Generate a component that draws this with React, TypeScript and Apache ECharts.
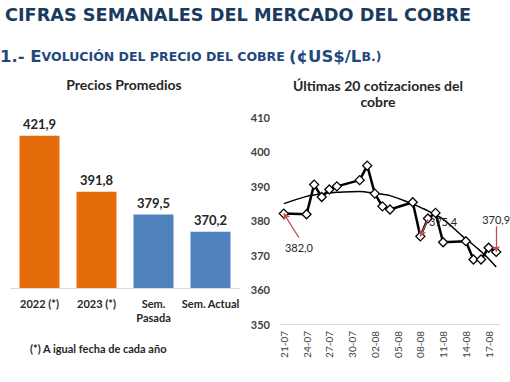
import React, { useEffect, useRef } from "react";
import * as echarts from "echarts";

// ---- Data ----
const barCategories = ["2022 (*)", "2023 (*)", "Sem.\nPasada", "Sem. Actual"];
const barValues = [421.9, 391.8, 379.5, 370.2];
const barColors = ["#E46C0A", "#E46C0A", "#4F81BD", "#4F81BD"];

// calendar days on the date axis (tick labels every 3 days)
const calendarDays = [
  "21-07", "22-07", "23-07", "24-07", "25-07", "26-07", "27-07", "28-07", "29-07", "30-07",
  "31-07", "01-08", "02-08", "03-08", "04-08", "05-08", "06-08", "07-08", "08-08", "09-08",
  "10-08", "11-08", "12-08", "13-08", "14-08", "15-08", "16-08", "17-08", "18-08",
];
const tradingDates = [
  "21-07", "24-07", "25-07", "26-07", "27-07", "28-07",
  "31-07", "01-08", "02-08", "03-08", "04-08",
  "07-08", "08-08", "09-08", "10-08", "11-08",
  "14-08", "15-08", "16-08", "17-08", "18-08",
];
const prices = [
  382.0, 381.8, 390.4, 386.8, 389.0, 389.9,
  391.7, 395.9, 387.8, 384.1, 383.2,
  385.3, 375.4, 380.6, 382.2, 373.7,
  374.0, 368.7, 368.7, 372.1, 370.9,
];
const trend = [
  384.9, 387.0, 387.4, 387.7, 388.0, 388.2,
  388.4, 388.2, 388.0, 387.6, 387.2,
  384.8, 383.8, 382.8, 381.6, 380.4,
  374.6, 372.9, 371.0, 368.9, 366.5,
];

const fmt = (v: number) => v.toFixed(1).replace(".", ",");

export default function App() {
  const ref = useRef<HTMLDivElement>(null);
  useEffect(() => {
    if (!ref.current) return;
    const chart = echarts.init(ref.current, null, { renderer: "svg" });
    const onAxis = (arr: number[]) =>
      calendarDays.map((d) => {
        const i = tradingDates.indexOf(d);
        return i >= 0 ? arr[i] : null;
      });
    const priceData = onAxis(prices);
    const trendData = onAxis(trend);
    const p = (d: string) => prices[tradingDates.indexOf(d)];
    const idx = (d: string) => calendarDays.indexOf(d);

    const chartFont = "Lato";
    const darkText = "#262626";

    chart.setOption({
      animation: false,
      backgroundColor: "#ffffff",
      graphic: [
        {
          type: "text",
          left: 5,
          top: 6,
          style: {
            text: "CIFRAS SEMANALES DEL MERCADO DEL COBRE",
            font: "bold 17.7px 'DejaVu Sans'",
            fill: "#1B3A60",
          },
        },
        {
          type: "text",
          left: 0,
          top: 48,
          style: {
            text: "{b|1.- E}{s|VOLUCIÓN DEL PRECIO DEL COBRE }{b|(¢US$/L}{s|B.)}",
            rich: {
              b: { font: "bold 16.5px 'DejaVu Sans'", fill: "#1F497D" },
              s: { font: "bold 12.5px 'DejaVu Sans'", fill: "#1F497D" },
            },
          },
        },
        {
          type: "text",
          x: 124,
          y: 84,
          style: {
            text: "Precios Promedios",
            font: `bold 14px ${chartFont}`,
            fill: darkText,
            align: "center",
            verticalAlign: "middle",
          },
        },
        {
          type: "text",
          x: 378,
          y: 93,
          style: {
            text: "Últimas 20 cotizaciones del\ncobre",
            font: `bold 14px ${chartFont}`,
            lineHeight: 16,
            fill: darkText,
            align: "center",
            verticalAlign: "middle",
          },
        },
        {
          type: "text",
          x: 30,
          y: 348,
          style: {
            text: "(*) A igual fecha de cada año",
            font: `bold 11px ${chartFont}`,
            fill: darkText,
            verticalAlign: "middle",
          },
        },
      ],
      grid: [
        { left: 11, right: 271, top: 102, bottom: 94 },
        { left: 280, right: 10, top: 117, bottom: 58 },
      ],
      xAxis: [
        {
          type: "category",
          gridIndex: 0,
          data: barCategories,
          axisLine: { lineStyle: { color: "#D9D9D9" } },
          axisTick: { show: false },
          axisLabel: {
            color: darkText,
            fontFamily: chartFont,
            fontWeight: "bold",
            fontSize: 11,
            lineHeight: 14,
            margin: 8,
            interval: 0,
          },
        },
        {
          type: "category",
          gridIndex: 1,
          data: calendarDays,
          boundaryGap: true,
          axisLine: { lineStyle: { color: "#D9D9D9" } },
          axisTick: { show: false },
          axisLabel: {
            interval: 2,
            rotate: 90,
            color: "#404040",
            fontFamily: chartFont,
            fontSize: 10,
            margin: 7,
          },
        },
      ],
      yAxis: [
        {
          type: "value",
          gridIndex: 0,
          min: 340,
          max: 440,
          show: false,
          splitLine: { show: false },
        },
        {
          type: "value",
          gridIndex: 1,
          min: 350,
          max: 410,
          interval: 10,
          axisLine: { show: false },
          axisTick: { show: false },
          splitLine: { show: false },
          axisLabel: {
            color: "#404040",
            fontFamily: chartFont,
            fontWeight: "bold",
            fontSize: 11,
            margin: 10,
          },
        },
      ],
      series: [
        {
          type: "bar",
          xAxisIndex: 0,
          yAxisIndex: 0,
          barWidth: 40,
          data: barValues.map((v, i) => ({ value: v, itemStyle: { color: barColors[i] } })),
          label: {
            show: true,
            position: "top",
            distance: 5,
            formatter: (pp: any) => fmt(pp.value),
            color: darkText,
            fontFamily: chartFont,
            fontWeight: "bold",
            fontSize: 13,
          },
        },
        {
          type: "line",
          name: "Tendencia",
          xAxisIndex: 1,
          yAxisIndex: 1,
          data: trendData,
          connectNulls: true,
          smooth: true,
          showSymbol: false,
          symbol: "none",
          lineStyle: { color: "#000", width: 1.5 },
          z: 2,
        },
        {
          type: "line",
          name: "Cobre",
          xAxisIndex: 1,
          yAxisIndex: 1,
          data: priceData,
          connectNulls: true,
          showAllSymbol: true,
          symbol: "diamond",
          symbolSize: 9,
          lineStyle: { color: "#000", width: 2.5 },
          itemStyle: { color: "#ffffff", borderColor: "#000", borderWidth: 1.3 },
          z: 3,
          markLine: {
            silent: true,
            symbol: ["none", "arrow"],
            symbolSize: 6,
            label: { show: false },
            lineStyle: { color: "#C0504D", width: 1.3, type: "solid" },
            data: [
              [{ coord: [idx("23-07"), 375.0] }, { coord: [idx("21-07"), p("21-07")] }],
              [{ coord: [idx("09-08"), 380.3] }, { coord: [idx("08-08"), p("08-08")] }],
              [{ coord: [idx("18-08"), 378.3] }, { coord: [idx("18-08"), p("18-08")] }],
            ],
          },
          markPoint: {
            silent: true,
            symbol: "circle",
            symbolSize: 0,
            label: {
              show: true,
              color: darkText,
              fontFamily: chartFont,
              fontSize: 11,
              formatter: (pp: any) => pp.name,
            },
            data: [
              { name: fmt(p("21-07")), coord: [1.5, 372.1] },
              { name: fmt(p("08-08")), coord: [idx("11-08"), 379.8] },
              { name: fmt(p("18-08")), coord: [idx("18-08"), 380.3] },
            ],
          },
        },
      ],
    });
    return () => chart.dispose();
  }, []);
  return (
    <div
      ref={ref}
      style={{ position: "fixed", left: 0, top: 0, width: 510, height: 382 }}
    />
  );
}
